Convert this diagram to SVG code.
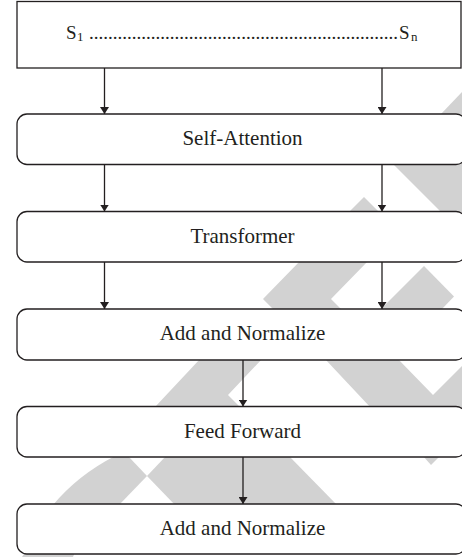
<svg xmlns="http://www.w3.org/2000/svg" width="462" height="557" viewBox="0 0 462 557">
<defs>
<style>
.box{fill:#ffffff;stroke:#231f20;stroke-width:1.3}
.lbl{font-size:21px;fill:#231f20;text-anchor:middle}
.top{font-size:19px;fill:#231f20}
.sub{font-size:13px}
.wm{fill:#d2d2d2;stroke:none}
.conn{stroke:#231f20;stroke-width:1.3;fill:none;marker-end:url(#arr)}
</style>
<marker id="arr" viewBox="0 0 7 9" refX="7" refY="4.5" markerWidth="7" markerHeight="9" markerUnits="userSpaceOnUse" orient="auto">
<path d="M0,0 L7,4.5 L0,9 z" fill="#231f20"/>
</marker>
</defs>
<rect width="462" height="557" fill="#ffffff"/>
<g id="watermark">
<polygon class="wm" points="440,115 462,115 462,92"/>
<polygon class="wm" points="392,163 462,163 462,212 441,212"/>
<polygon class="wm" points="364,197 349,212 379,212"/>
<polygon class="wm" points="263,299 300,261 368,261 331,299 342,310 274,310"/>
<polygon class="wm" points="424,266 454,296.5 441,310 381,310 381,309"/>
<polygon class="wm" points="155,407 200,359 262,359 228,395 240,407"/>
<polygon class="wm" points="325,359 398,359 433,395 462,366 462,408 371,408"/>
<polygon class="wm" points="423,456 440,456 431,465"/>
<path class="wm" d="M53,505 Q78,475 115,456 L128,456 L147,476 L119,505 Z"/>
<polygon class="wm" points="147,476 166,456 289,456 337,505 175,505"/>
<polygon class="wm" points="22,557 25,552 75,552 73,557"/>
</g>
<g id="top-box">
<rect class="box" x="17" y="1.5" width="444" height="66.5"/>
<text class="top" font-family="Liberation Serif, DejaVu Serif, serif" y="39"><tspan x="66">S</tspan><tspan class="sub" x="77" dy="1.5">1</tspan><tspan x="89" dy="-1.5" textLength="309" lengthAdjust="spacing">.................................................................</tspan><tspan x="399">S</tspan><tspan class="sub" x="411" dy="1.5">n</tspan></text>
</g>
<g id="self-attention">
<rect class="box" x="17" y="114" width="449" height="50.5" rx="10"/>
<text class="lbl" font-family="Liberation Serif, DejaVu Serif, serif" x="242.5" y="145">Self-Attention</text>
</g>
<g id="transformer">
<rect class="box" x="17" y="211.5" width="449" height="50.5" rx="10"/>
<text class="lbl" font-family="Liberation Serif, DejaVu Serif, serif" x="242.5" y="242.5">Transformer</text>
</g>
<g id="add-normalize-1">
<rect class="box" x="17" y="309" width="449" height="51" rx="10"/>
<text class="lbl" font-family="Liberation Serif, DejaVu Serif, serif" x="242.5" y="340">Add and Normalize</text>
</g>
<g id="feed-forward">
<rect class="box" x="17" y="406.5" width="449" height="50.5" rx="10"/>
<text class="lbl" font-family="Liberation Serif, DejaVu Serif, serif" x="242.5" y="437.5">Feed Forward</text>
</g>
<g id="add-normalize-2">
<rect class="box" x="17" y="504" width="449" height="50" rx="10"/>
<text class="lbl" font-family="Liberation Serif, DejaVu Serif, serif" x="242.5" y="535">Add and Normalize</text>
</g>
<g id="connectors">
<line class="conn" x1="104.5" y1="68" x2="104.5" y2="114"/>
<line class="conn" x1="382" y1="68" x2="382" y2="114"/>
<line class="conn" x1="104.5" y1="164.5" x2="104.5" y2="211.5"/>
<line class="conn" x1="382" y1="164.5" x2="382" y2="211.5"/>
<line class="conn" x1="104.5" y1="262" x2="104.5" y2="309"/>
<line class="conn" x1="382" y1="262" x2="382" y2="309"/>
<line class="conn" x1="243" y1="360" x2="243" y2="406.5"/>
<line class="conn" x1="243" y1="457" x2="243" y2="504"/>
</g>
</svg>
